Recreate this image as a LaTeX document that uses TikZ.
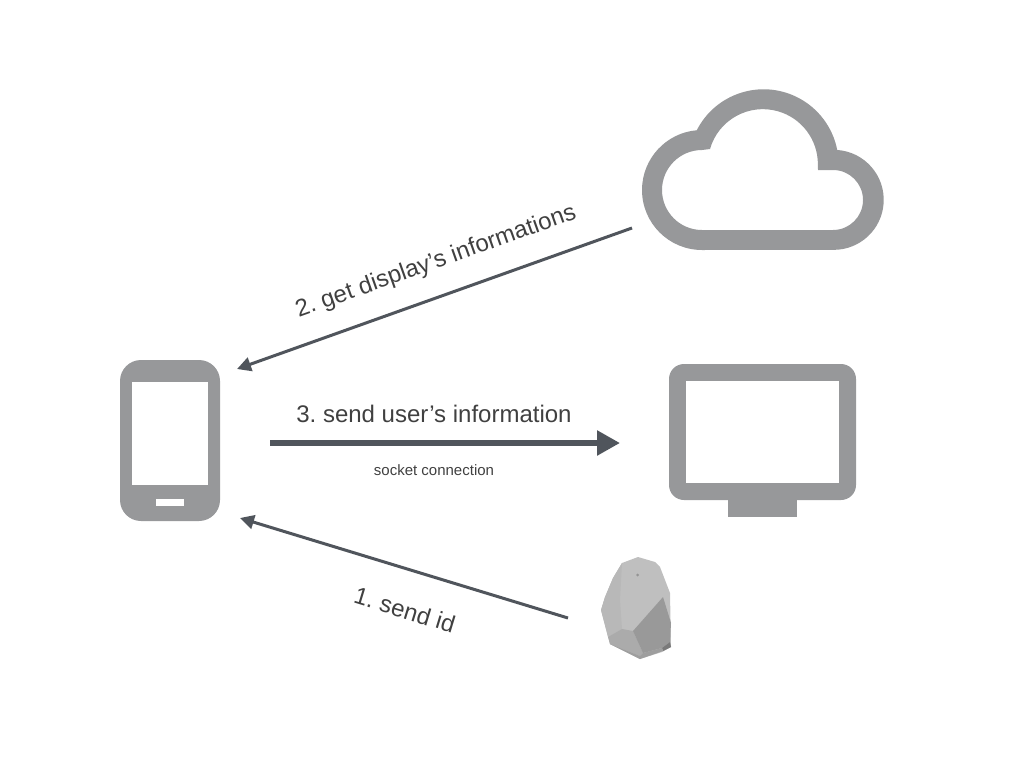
\documentclass[tikz,border=0pt]{standalone}
\usepackage{fontspec}
\usepackage{tikz}
\usetikzlibrary{arrows.meta}
\setmainfont{Liberation Sans}
\frenchspacing
\definecolor{icongray}{HTML}{97989A}
\definecolor{arrowgray}{HTML}{50555C}

\begin{document}
\begin{tikzpicture}[
		x=1pt, y=-1pt,
		thinarrow/.style={draw=arrowgray, line width=3pt, -{Triangle[length=14pt, width=14pt]}},
		thickarrow/.style={draw=arrowgray, line width=5.5pt, -{Triangle[length=23pt, width=24pt]}},
		steplabel/.style={inner sep=0pt, text=black!75, font=\fontsize{24}{24}\selectfont}
	]
  \useasboundingbox (0, 0) rectangle (1024, 768);
  % cloud
  \fill [icongray, even odd rule]
    (702, 250) arc [start angle=90, end angle=265, radius=60]
    arc [start angle=207, end angle=349, radius=75]
    arc [start angle=274, end angle=450, radius=50] -- cycle
    (702, 230) arc [start angle=90, end angle=270, radius=40]
    -- (710, 149) arc [start angle=196, end angle=360, radius=55]
    -- (818, 170) -- (833, 170) arc [start angle=270, end angle=450, radius=30] -- cycle;
  % phone
  \fill [icongray, rounded corners=21pt] (120, 360) rectangle (220, 521);
  \fill [white] (132, 382) rectangle (208, 485);
  \fill [white] (156, 499) rectangle (184, 506);
  % display
  \fill [icongray] (728, 495) rectangle (797, 517);
  \fill [icongray, rounded corners=15pt] (669, 364) rectangle (856, 500);
  \fill [white] (686, 381) rectangle (839, 483);
  % beacon
  \fill [black!25] (622, 563) -- (638, 557) -- (655, 562) -- (660, 567) -- (670, 593) -- (671, 647)
    -- (662, 652) -- (640, 659) -- (610, 644) -- (601, 610) -- (605, 597) -- (613, 578) -- cycle;
  \fill [black!28] (622, 563) -- (613, 578) -- (605, 597) -- (601, 610) -- (608, 637) -- (622, 629) -- (620, 600) -- cycle;
  \fill [black!33] (608, 637) -- (622, 629) -- (633, 631) -- (643, 653) -- (640, 656) -- (610, 644) -- cycle;
  \fill [black!40] (633, 631) -- (663, 597) -- (671, 623) -- (670, 642) -- (662, 648) -- (643, 653) -- cycle;
  \fill [black!52] (670, 642) -- (671, 647) -- (663, 651) -- (662, 648) -- cycle;
  \fill [black!38] (610, 644) -- (640, 656) -- (643, 653) -- (662, 648) -- (663, 651) -- (640, 659) -- cycle;
  \fill [black!42] (637.5, 575) circle (1.5);
  % arrows
  \coordinate (beacon_out) at (568, 618);
  \coordinate (phone_low) at (240, 518);
  \coordinate (cloud_out) at (632, 228);
  \coordinate (phone_up) at (237, 369);
  \coordinate (phone_out) at (270, 443);
  \coordinate (display_in) at (620, 443);
  \draw [thinarrow] (beacon_out) -- (phone_low);
  \draw [thinarrow] (cloud_out) -- (phone_up);
  \draw [thickarrow] (phone_out) -- (display_in);
  % labels
  \node (send_id) [steplabel, rotate=-17] at (405, 610) {1. send id};
  \node (get_info) [steplabel, rotate=19.6] at (436, 262) {2. get display’s informations};
  \node (send_info) [steplabel] at (434, 414) {3. send user’s information};
  \node (socket) [steplabel, font=\fontsize{15}{15}\selectfont] at (434, 470) {socket connection};
\end{tikzpicture}
\end{document}
